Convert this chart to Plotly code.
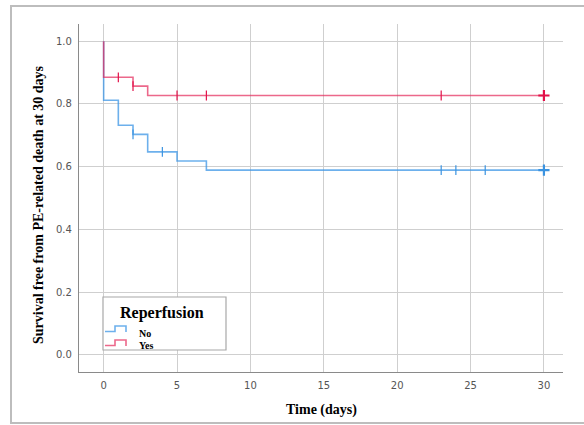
import plotly.graph_objects as go

# ---- data ----
time_no = [0, 0, 1, 2, 3, 5, 7, 30]
surv_no = [1.0, 0.812, 0.732, 0.703, 0.647, 0.618, 0.589, 0.589]
cens_no_t = [2, 4, 23, 24, 26, 30]
cens_no_s = [0.703, 0.647, 0.589, 0.589, 0.589, 0.589]

time_yes = [0, 0, 2, 3, 30]
surv_yes = [1.0, 0.885, 0.857, 0.827, 0.827]
cens_yes_t = [1, 2, 5, 7, 23, 30]
cens_yes_s = [0.885, 0.857, 0.827, 0.827, 0.827, 0.827]

x_ticks = [0, 5, 10, 15, 20, 25, 30]
y_ticks = [0.0, 0.2, 0.4, 0.6, 0.8, 1.0]
groups = ["No", "Yes"]

BLUE_L = "rgba(60,150,230,0.75)"
BLUE_M = "#3b93e0"
RED_L = "rgba(228,40,90,0.7)"
RED_M = "#e2124a"

W, H = 584, 425
L, R, T, B = 79, 21, 24, 53
PW, PH = W - L - R, H - T - B


def px(x):
    return (x - L) / PW


def py(y):
    return (H - B - y) / PH


fig = go.Figure()
for t, s, tc, sc, lc, mc in [
    (time_no, surv_no, cens_no_t, cens_no_s, BLUE_L, BLUE_M),
    (time_yes, surv_yes, cens_yes_t, cens_yes_s, RED_L, RED_M),
]:
    fig.add_trace(go.Scatter(x=t, y=s, mode="lines", line=dict(color=lc, width=1.6, shape="hv"),
                             showlegend=False, hoverinfo="skip"))
    fig.add_trace(go.Scatter(x=tc, y=sc, mode="markers",
                             marker=dict(symbol="line-ns-open", size=7, color=mc,
                                         line=dict(color=mc, width=1.2)),
                             showlegend=False, hoverinfo="skip"))
    fig.add_trace(go.Scatter(x=tc[-1:], y=sc[-1:], mode="markers",
                             marker=dict(symbol="cross-thin-open", size=8, color=mc,
                                         line=dict(color=mc, width=2.2)),
                             showlegend=False, hoverinfo="skip"))

serif = "Liberation Serif, Times New Roman, serif"
shapes = [
    # outer frame
    dict(type="rect", xref="paper", yref="paper", x0=px(11), x1=px(592), y0=py(423), y1=py(6),
         line=dict(color="#bdbdbd", width=2), fillcolor="rgba(0,0,0,0)", layer="below"),
    # legend box
    dict(type="rect", xref="paper", yref="paper", x0=px(103), x1=px(226), y0=py(350), y1=py(297),
         line=dict(color="#a8a8a8", width=1.2), fillcolor="white", layer="above"),
]
for yb, col in [(331.5, BLUE_L), (345.5, RED_L)]:
    pts = [(105, yb), (115, yb), (115, yb - 5.5), (126, yb - 5.5), (126, yb + 0.5)]
    path = "M " + " L ".join(f"{px(a):.5f},{py(b):.5f}" for a, b in pts)
    shapes.append(dict(type="path", xref="paper", yref="paper", path=path,
                       line=dict(color=col, width=1.6), layer="above"))

annotations = [
    dict(text="Survival free from PE-related death at 30 days", xref="paper", yref="paper",
         x=px(38), y=py(205), textangle=-90, showarrow=False,
         font=dict(family=serif, size=14, color="black"), xanchor="center", yanchor="middle"),
    dict(text="Time (days)", xref="paper", yref="paper", x=px(321), y=py(410), showarrow=False,
         font=dict(family=serif, size=14, color="black"), xanchor="center", yanchor="middle"),
    dict(text="Reperfusion", xref="paper", yref="paper", x=px(162), y=py(313), showarrow=False,
         font=dict(family=serif, size=16, color="black"), xanchor="center", yanchor="middle"),
]
for g, yy in zip(groups, [333, 345]):
    annotations.append(dict(text=g, xref="paper", yref="paper", x=px(137), y=py(yy), showarrow=False,
                            font=dict(family=serif, size=10, color="black"), xanchor="left", yanchor="middle"))
for a in annotations:
    a["text"] = "<b>" + a["text"] + "</b>"

fig.update_layout(
    width=W, height=H, margin=dict(l=L, r=R, t=T, b=B),
    paper_bgcolor="white", plot_bgcolor="white",
    shapes=shapes, annotations=annotations, showlegend=False,
    xaxis=dict(range=[-1.68, 31.3], tickvals=x_ticks, ticktext=[str(v) for v in x_ticks],
               showgrid=True, gridcolor="#cfcfcf", gridwidth=1.3, zeroline=False,
               showline=True, linecolor="#8a8a8a", linewidth=1.3, ticks="",
               tickfont=dict(family="DejaVu Sans", size=10, color="#555"), ticklabelstandoff=4),
    yaxis=dict(range=[-0.055, 1.055], tickvals=y_ticks, ticktext=[f"{v:.1f}" for v in y_ticks],
               showgrid=True, gridcolor="#cfcfcf", gridwidth=1.3, zeroline=False,
               showline=True, linecolor="#8a8a8a", linewidth=1.3, ticks="",
               tickfont=dict(family="DejaVu Sans", size=10, color="#555"), ticklabelstandoff=4),
)
fig.write_html("out.html")
